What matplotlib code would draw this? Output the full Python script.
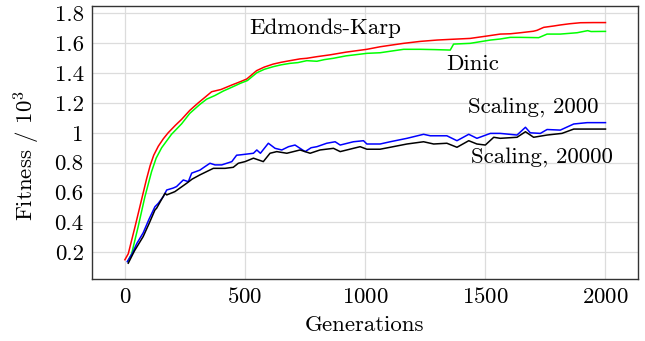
import matplotlib
matplotlib.use("Agg")
import matplotlib.pyplot as plt
from matplotlib.ticker import FuncFormatter

plt.rcParams["font.family"] = ["cmr10", "DejaVu Serif"]
plt.rcParams["mathtext.fontset"] = "cm"
plt.rcParams["axes.formatter.use_mathtext"] = True
plt.rcParams["axes.unicode_minus"] = False

# Edmonds-Karp (red)
ek_x = [0, 14, 42, 69, 90, 105, 120, 139, 160, 180, 210, 236, 270, 305, 335, 361, 400, 445,
        480, 507, 548, 580, 617, 650, 687, 729, 757, 800, 854, 920, 1007, 1062, 1100,
        1160, 1229, 1299, 1360, 1437, 1507, 1562, 1604, 1646, 1700, 1715, 1743, 1784,
        1812, 1850, 1896, 1950, 2000]
ek_y = [0.15, 0.19, 0.37, 0.55, 0.69, 0.78, 0.85, 0.91, 0.96, 1.0, 1.05, 1.09, 1.15, 1.20,
        1.24, 1.275, 1.29, 1.32, 1.342, 1.36, 1.416, 1.44, 1.46, 1.472, 1.483, 1.495,
        1.499, 1.51, 1.522, 1.54, 1.559, 1.576, 1.585, 1.599, 1.612, 1.621, 1.626,
        1.632, 1.648, 1.661, 1.663, 1.67, 1.68, 1.686, 1.706, 1.715, 1.722, 1.73,
        1.737, 1.738, 1.738]

# Dinic (green)
di_x = [12, 28, 55, 83, 111, 130, 153, 194, 236, 270, 312, 340, 375, 410, 445, 480, 510, 549,
        580, 618, 650, 687, 720, 757, 799, 830, 868, 920, 1007, 1062, 1100, 1160, 1229,
        1290, 1354, 1368, 1437, 1521, 1562, 1604, 1646, 1722, 1757, 1812, 1882, 1926,
        1940, 2000]
di_y = [0.14, 0.19, 0.37, 0.57, 0.74, 0.83, 0.90, 0.99, 1.06, 1.13, 1.19, 1.225, 1.25, 1.28,
        1.305, 1.331, 1.35, 1.402, 1.425, 1.443, 1.455, 1.465, 1.47, 1.483, 1.479, 1.49,
        1.499, 1.515, 1.532, 1.536, 1.545, 1.559, 1.559, 1.557, 1.554, 1.594, 1.599,
        1.621, 1.628, 1.639, 1.639, 1.637, 1.661, 1.661, 1.67, 1.684, 1.678, 1.679]

# Scaling, 2000 (blue)
s2_x = [10, 30, 50, 76, 100, 125, 139, 160, 174, 201, 215, 243, 264, 278, 312, 330, 354,
        375, 403, 445, 465, 479, 535, 549, 564, 597, 625, 653, 681, 708, 750, 775, 799,
        840, 875, 896, 951, 993, 1007, 1062, 1104, 1174, 1243, 1271, 1340, 1382, 1431,
        1465, 1521, 1562, 1632, 1667, 1687, 1729, 1757, 1812, 1868, 1924, 2000]
s2_y = [0.137, 0.19, 0.26, 0.33, 0.42, 0.505, 0.528, 0.573, 0.617, 0.63, 0.64, 0.684,
        0.673, 0.73, 0.75, 0.77, 0.796, 0.785, 0.785, 0.807, 0.85, 0.852, 0.863, 0.885,
        0.863, 0.93, 0.896, 0.885, 0.907, 0.918, 0.874, 0.9, 0.907, 0.93, 0.94, 0.918,
        0.94, 0.947, 0.925, 0.925, 0.94, 0.963, 0.99, 0.98, 0.98, 0.947, 0.99, 0.963,
        0.996, 0.996, 0.985, 1.037, 1.0, 0.996, 1.022, 1.018, 1.059, 1.068, 1.068]

# Scaling, 20000 (black)
s20_x = [14, 40, 76, 100, 125, 132, 167, 174, 208, 257, 280, 312, 368, 417, 451, 472,
         500, 535, 576, 604, 632, 674, 729, 771, 812, 868, 896, 951, 979, 1007, 1062,
         1104, 1174, 1243, 1285, 1340, 1382, 1431, 1465, 1500, 1535, 1562, 1632, 1667,
         1701, 1757, 1819, 1868, 1951, 2000]
s20_y = [0.127, 0.21, 0.305, 0.39, 0.483, 0.495, 0.595, 0.584, 0.606, 0.662, 0.69, 0.718,
         0.762, 0.762, 0.769, 0.796, 0.807, 0.83, 0.807, 0.863, 0.874, 0.863, 0.885,
         0.863, 0.885, 0.896, 0.874, 0.896, 0.907, 0.89, 0.89, 0.903, 0.925, 0.94, 0.925,
         0.93, 0.903, 0.947, 0.925, 0.918, 0.97, 0.963, 0.97, 1.007, 0.97, 0.985, 0.996,
         1.025, 1.025, 1.025]

x_ticks = [0, 500, 1000, 1500, 2000]
y_ticks = [0.2, 0.4, 0.6, 0.8, 1.0, 1.2, 1.4, 1.6, 1.8]

fs = 16.5
fig = plt.figure(figsize=(6.45, 3.41), dpi=100)
ax = fig.add_axes([0.1426, 0.1818, 0.8464, 0.8006])

ax.plot(ek_x, ek_y, color="#ff0000", lw=1.1)
ax.plot(di_x, di_y, color="#00ff00", lw=1.1)
ax.plot(s2_x, s2_y, color="#0000ff", lw=1.1)
ax.plot(s20_x, s20_y, color="black", lw=1.1)

ax.text(833, 1.70, "Edmonds-Karp", fontsize=fs, ha="center", va="center")
ax.text(1446, 1.46, "Dinic", fontsize=fs, ha="center", va="center")
ax.text(1700, 1.17, "Scaling, 2000", fontsize=fs, ha="center", va="center")
ax.text(1737, 0.84, "Scaling, 20000", fontsize=fs, ha="center", va="center")

ax.set_xlim(-137, 2135)
ax.set_ylim(0.021, 1.849)
ax.set_xticks(x_ticks)
ax.set_yticks(y_ticks)
ax.yaxis.set_major_formatter(FuncFormatter(lambda v, p: "%g" % round(v, 2)))
ax.tick_params(labelsize=fs, length=0, pad=6)
ax.grid(True, color="#dcdcdc", lw=0.9)
ax.set_axisbelow(True)
for s in ax.spines.values():
    s.set_color("#333333")
    s.set_linewidth(1.0)

ax.set_xlabel("Generations", fontsize=fs)
ax.set_ylabel("Fitness / $10^3$", fontsize=fs)
ax.xaxis.set_label_coords(0.5, -0.135)
ax.yaxis.set_label_coords(-0.092, 0.454)

fig.savefig("out.png", dpi=100)
